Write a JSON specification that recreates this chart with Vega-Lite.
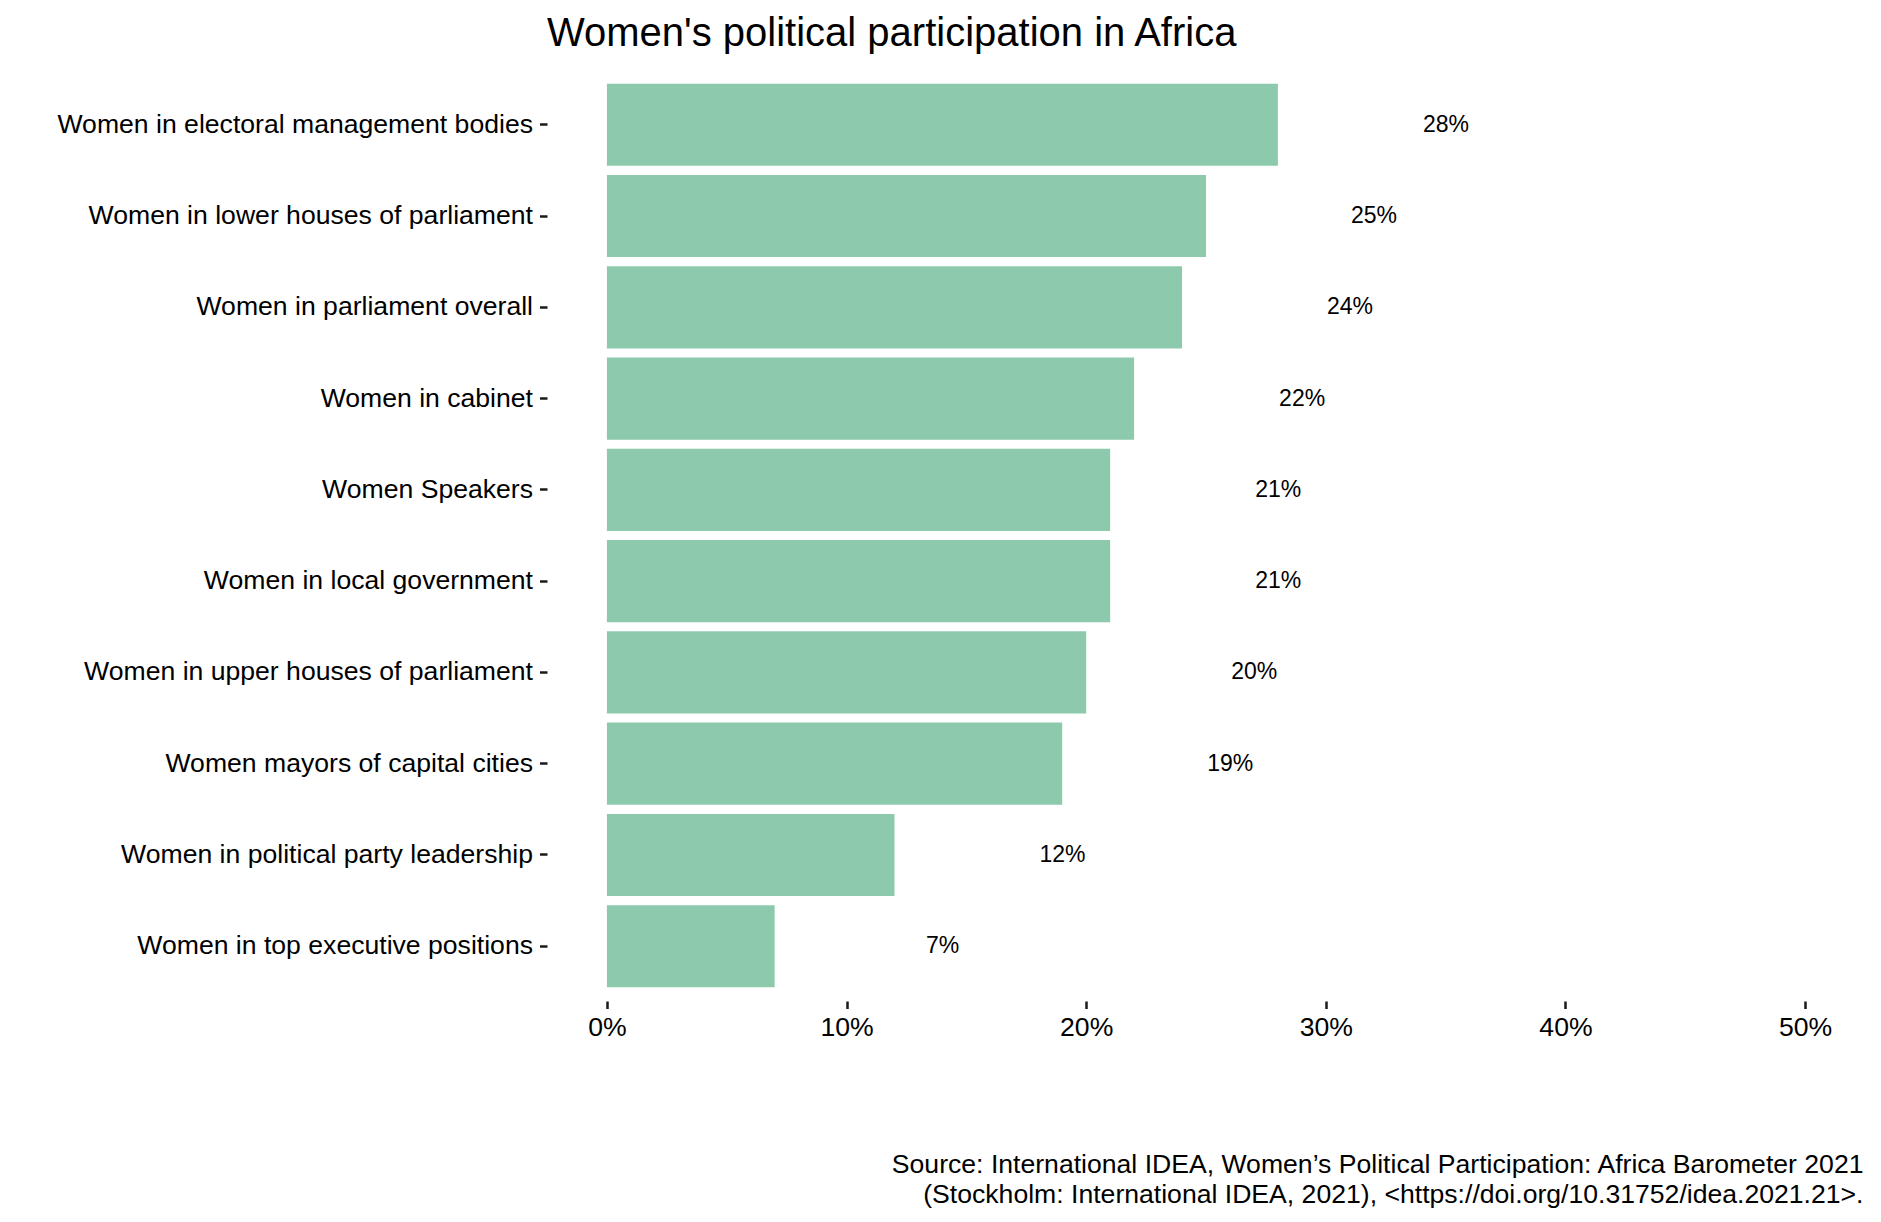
{
  "$schema": "https://vega.github.io/schema/vega-lite/v6.json",
  "width": 1318,
  "height": 931,
  "autosize": {"type": "none"},
  "padding": {"left": 547, "top": 70, "right": 16, "bottom": 221},
  "background": "white",
  "config": {"view": {"stroke": null}, "font": "Liberation Sans"},
  "title": {
    "text": "Women's political participation in Africa",
    "anchor": "start",
    "frame": "group",
    "fontSize": 40,
    "fontWeight": "normal",
    "font": "Liberation Sans",
    "color": "black",
    "baseline": "alphabetic",
    "offset": -16
  },
  "data": {
    "values": [
      {"category": "Women in electoral management bodies", "value": 0.28},
      {"category": "Women in lower houses of parliament", "value": 0.25},
      {"category": "Women in parliament overall", "value": 0.24},
      {"category": "Women in cabinet", "value": 0.22},
      {"category": "Women Speakers", "value": 0.21},
      {"category": "Women in local government", "value": 0.21},
      {"category": "Women in upper houses of parliament", "value": 0.20},
      {"category": "Women mayors of capital cities", "value": 0.19},
      {"category": "Women in political party leadership", "value": 0.12},
      {"category": "Women in top executive positions", "value": 0.07}
    ]
  },
  "encoding": {
    "y": {
      "field": "category",
      "type": "nominal",
      "sort": null,
      "scale": {"paddingInner": 0.1, "paddingOuter": 0.15},
      "axis": {
        "title": null,
        "domain": false,
        "grid": false,
        "labelFont": "Liberation Sans",
        "labelFontSize": 26.6,
        "labelColor": "black",
        "tickSize": 7.5,
        "tickWidth": 2.5,
        "tickColor": "#1a1a1a",
        "labelPadding": 7,
        "labelLimit": 1000
      }
    }
  },
  "layer": [
    {
      "mark": {"type": "bar", "color": "#8DCAAD"},
      "encoding": {
        "x": {
          "field": "value",
          "type": "quantitative",
          "scale": {"domain": [-0.025, 0.525], "nice": false, "zero": false},
          "axis": {
            "values": [0, 0.1, 0.2, 0.3, 0.4, 0.5],
            "format": ".0%",
            "domain": false,
            "grid": false,
            "labelFont": "Liberation Sans",
            "labelFontSize": 26.6,
            "labelColor": "black",
            "tickSize": 7.5,
            "tickWidth": 2.5,
            "tickColor": "#1a1a1a",
            "labelPadding": 6,
            "title": [
              "Source: International IDEA, Women’s Political Participation: Africa Barometer 2021",
              "(Stockholm: International IDEA, 2021), <https://doi.org/10.31752/idea.2021.21>."
            ],
            "titleFont": "Liberation Sans",
            "titleFontSize": 26.6,
            "titleFontWeight": "normal",
            "titleColor": "black",
            "titleAlign": "right",
            "titleAnchor": "end",
            "titleX": 1316,
            "titleY": 171,
            "titleBaseline": "alphabetic",
            "titleLineHeight": 30
          }
        },
        "x2": {"datum": 0}
      }
    },
    {
      "mark": {"type": "text", "dx": 168, "fontSize": 23, "color": "black", "align": "center", "font": "Liberation Sans"},
      "encoding": {
        "x": {"field": "value", "type": "quantitative"},
        "text": {"field": "value", "type": "quantitative", "format": ".0%"}
      }
    }
  ]
}
